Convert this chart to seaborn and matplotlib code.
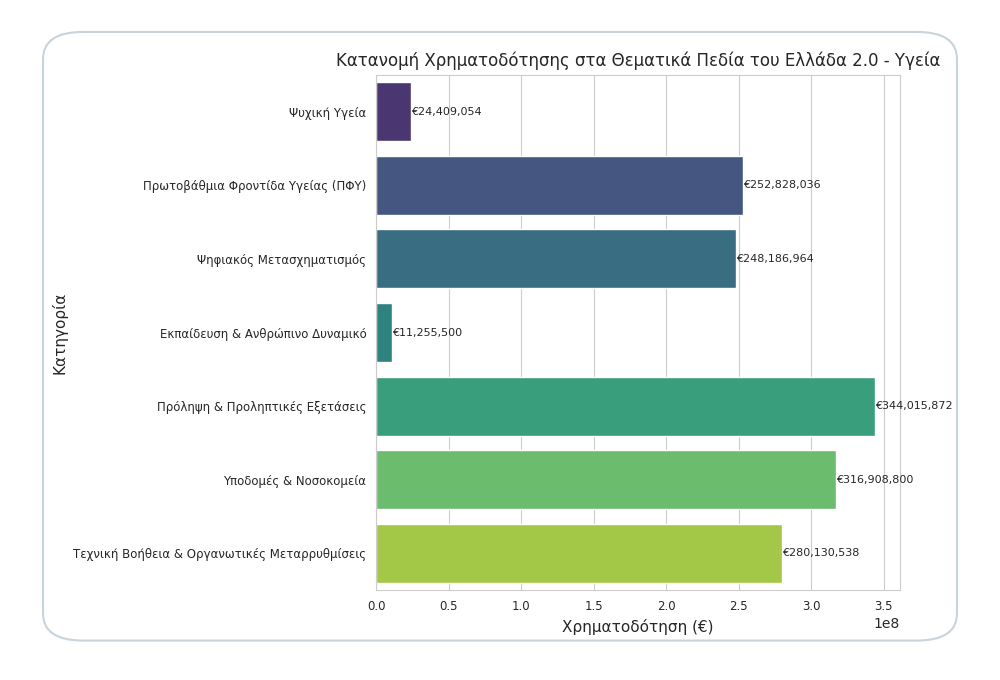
import matplotlib
matplotlib.use("Agg")
import matplotlib.pyplot as plt
import seaborn as sns
import pandas as pd
from matplotlib.patches import FancyBboxPatch

categories = ["Ψυχική Υγεία", "Πρωτοβάθμια Φροντίδα Υγείας (ΠΦΥ)", "Ψηφιακός Μετασχηματισμός",
              "Εκπαίδευση & Ανθρώπινο Δυναμικό", "Πρόληψη & Προληπτικές Εξετάσεις",
              "Υποδομές & Νοσοκομεία", "Τεχνική Βοήθεια & Οργανωτικές Μεταρρυθμίσεις"]
values = [24409054, 252828036, 248186964, 11255500, 344015872, 316908800, 280130538]

df = pd.DataFrame({"Κατηγορία": categories, "Χρηματοδότηση (€)": values})
sns.set_style("whitegrid")
fig = plt.figure(figsize=(10, 6.8), dpi=100)
ax = fig.add_axes([0.376, 0.132, 0.524, 0.758])
sns.barplot(data=df, y="Κατηγορία", x="Χρηματοδότηση (€)", hue="Κατηγορία",
            palette="viridis", legend=False, ax=ax, orient="h")
for i, v in enumerate(values):
    ax.text(v, i, f"€{v:,}", va="center", ha="left", fontsize=8)
ax.set_title("Κατανομή Χρηματοδότησης στα Θεματικά Πεδία του Ελλάδα 2.0 - Υγεία", fontsize=12)
ax.set_xlabel("Χρηματοδότηση (€)", fontsize=11)
ax.set_ylabel("Κατηγορία", fontsize=11)
ax.tick_params(labelsize=8.5)
fig.patches.append(FancyBboxPatch((0.043, 0.058), 0.914, 0.895, boxstyle="round,pad=0,rounding_size=0.04",
                                  transform=fig.transFigure, fill=False, edgecolor="#c8d4dc", lw=1.5))
fig.savefig("out.png")
